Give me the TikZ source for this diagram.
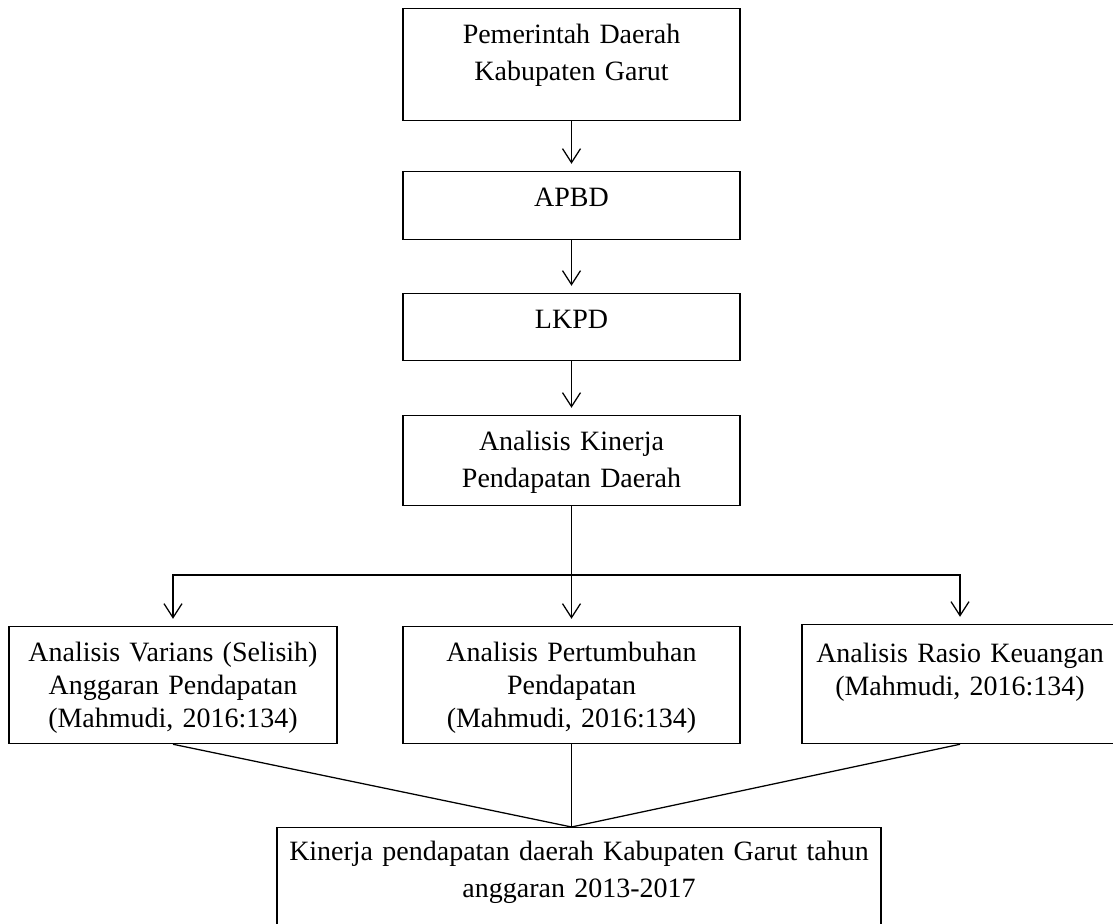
\documentclass[tikz,border=0pt]{standalone}
\usepackage{fontspec}
\setmainfont{Liberation Serif}
\usetikzlibrary{arrows.meta}

\begin{document}
\begin{tikzpicture}[
    >={Straight Barb[length=0.35cm,width=0.45cm]},
    line width=0.9pt,
    box/.style={draw, anchor=north, inner sep=0pt, align=center,
      text height=0.875cm, font=\fontsize{19.9}{26.3}\selectfont},
    lowbox/.style={box, font=\fontsize{19.9}{23.5}\selectfont},
    flow/.style={->, shorten >=0.18cm}
  ]
  \useasboundingbox (0,0) rectangle (27.825,23.1);

  \node[box, text width=8.425cm, text depth=1.925cm] (pemda) at (14.2875,22.9) {Pemerintah Daerah\\Kabupaten Garut};
  \node[box, text width=8.425cm, text depth=0.825cm] (apbd) at (14.2875,18.825) {APBD};
  \node[box, text width=8.425cm, text depth=0.8cm] (lkpd) at (14.2875,15.775) {LKPD};
  \node[box, text width=8.425cm, text depth=1.375cm] (analisis-kinerja) at (14.2875,12.725) {Analisis Kinerja\\Pendapatan Daerah};
  \coordinate (fork) at (14.2875,8.725);

  \node[lowbox, text width=8.2cm, text depth=2.05cm] (analisis-varians) at (4.325,7.45) {Analisis Varians (Selisih)\\Anggaran Pendapatan\\(Mahmudi, 2016:134)};
  \node[lowbox, text width=8.425cm, text depth=2.05cm] (analisis-pertumbuhan) at (14.2875,7.45) {Analisis Pertumbuhan\\Pendapatan\\(Mahmudi, 2016:134)};
  \node[lowbox, text width=7.9cm, text height=0.95cm, text depth=2.025cm] (analisis-rasio) at (24.0,7.5) {Analisis Rasio Keuangan\\(Mahmudi, 2016:134)};

  \node[box, text width=15.1cm, text height=0.825cm, text depth=1.675cm] (kinerja-pendapatan) at (14.475,2.425) {Kinerja pendapatan daerah Kabupaten Garut tahun\\anggaran 2013-2017};
  \coordinate (meet) at (analisis-pertumbuhan.south |- kinerja-pendapatan.north);

  \draw[flow] (pemda) -- (apbd);
  \draw[flow] (apbd) -- (lkpd);
  \draw[flow] (lkpd) -- (analisis-kinerja);

  \draw (analisis-kinerja) -- (fork);
  \draw[flow] (fork) -| (analisis-varians);
  \draw[flow] (fork) -- (analisis-pertumbuhan);
  \draw[flow] (fork) -| (analisis-rasio);

  \draw (analisis-varians.south) -- (meet);
  \draw (analisis-pertumbuhan.south) -- (meet);
  \draw (analisis-rasio.south) -- (meet);
\end{tikzpicture}
\end{document}
